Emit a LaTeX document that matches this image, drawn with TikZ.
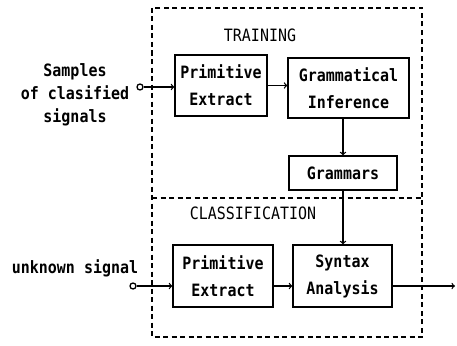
\documentclass[tikz,border=0pt]{standalone}
\usepackage{fontspec}
\newfontfamily\dotfont[FakeStretch=0.88]{DejaVu Sans Mono}
\usepackage{tikz}
\usetikzlibrary{shapes.geometric, arrows}

\begin{document}
\begin{tikzpicture}[x=1pt, y=-1pt, line width=1.3pt,
    blk/.style={draw, align=center, inner sep=0pt, font=\dotfont\bfseries\fontsize{17}{27}\selectfont},
    lbl/.style={align=center, font=\dotfont\bfseries\fontsize{17}{23}\selectfont},
    ttl/.style={font=\dotfont\fontsize{17}{20}\selectfont},
    src/.style={draw, circle, inner sep=0pt, minimum size=6pt},
    frame/.style={dash pattern=on 5pt off 3.5pt, line width=1.3pt},
    flow/.style={->, >=to}]
        \useasboundingbox (0,0) rectangle (457,345);
        \draw[frame] (152,8) rectangle (422,337);
        \draw[frame] (152,198) -- (422,198);

        \node[ttl] (train) at (260,35) {TRAINING};
        \node[ttl] (class) at (253,213) {CLASSIFICATION};

        \node[blk, minimum width=92pt, minimum height=61pt] (prim1) at (221,85.5) {Primitive\\Extract};
        \node[blk, minimum width=121pt, minimum height=60pt] (ginf) at (348.5,88) {Grammatical\\Inference};
        \node[blk, minimum width=108pt, minimum height=34pt] (gram) at (343,173) {Grammars};
        \node[blk, minimum width=100pt, minimum height=62pt] (prim2) at (223,276) {Primitive\\Extract};
        \node[blk, minimum width=99pt, minimum height=62pt] (syn) at (342.5,276) {Syntax\\Analysis};

        \node[lbl] (samples) at (75,95) {Samples\\of clasified\\signals};
        \node[lbl] (unknown) at (75,268) {unknown signal};
        \node[src] (in1) at (140,87) {};
        \node[src] (in2) at (133,286) {};
        \coordinate (out) at (455,286);

        \draw[flow] (in1) -- (prim1.west |- in1);
        \draw[flow] (prim1.east) -- (prim1.east -| ginf.west);
        \draw[flow] (gram.north |- ginf.south) -- (gram.north);
        \draw[flow] (gram.south) -- (gram.south |- syn.north);
        \draw[flow] (in2) -- (prim2.west |- in2);
        \draw[flow] (prim2.east |- in2) -- (syn.west |- in2);
        \draw[flow] (syn.east |- out) -- (out);
    \end{tikzpicture}
\end{document}
